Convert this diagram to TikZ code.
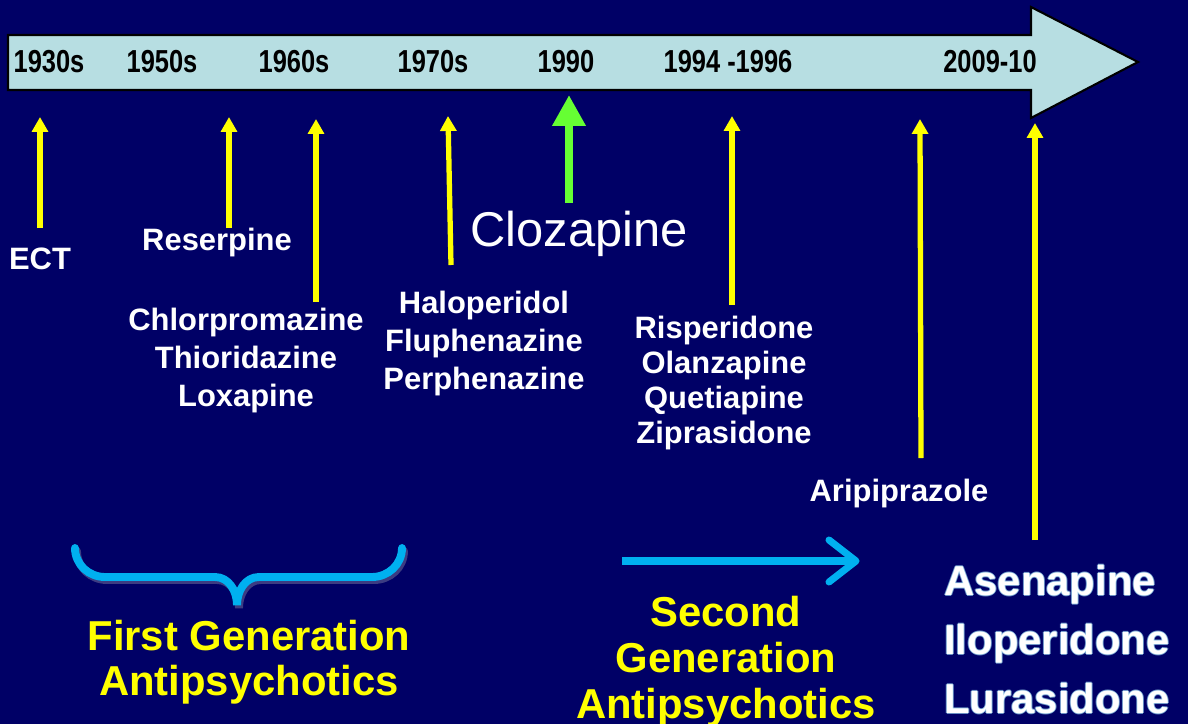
\documentclass[tikz,border=0pt]{standalone}
\usepackage{fontspec}
\setmainfont{Liberation Sans}
\newfontfamily\narrowfont[FakeStretch=0.8]{Liberation Sans}
\usetikzlibrary{arrows.meta}
\definecolor{bg}{RGB}{0,0,102}
\definecolor{tl}{RGB}{183,222,226}
\definecolor{yel}{RGB}{255,255,0}
\definecolor{grn}{RGB}{102,255,51}
\definecolor{cy}{RGB}{0,176,240}
\definecolor{glow}{RGB}{150,205,235}
\definecolor{shad}{RGB}{60,60,130}
\begin{document}
\begin{tikzpicture}[x=0.02cm,y=-0.02cm,
 year/.style={font=\narrowfont\bfseries\fontsize{18.1}{20}\selectfont, text=black, anchor=base, inner sep=0},
 drug/.style={font=\bfseries\fontsize{17.6}{21.6}\selectfont, text=white, align=center, anchor=base, inner sep=0},
 gen/.style={font=\bfseries\fontsize{23.8}{26}\selectfont, text=yel, align=center, anchor=base, inner sep=0},
 newdrug/.style={font=\bfseries\fontsize{23.8}{33.5}\selectfont, align=left, anchor=base west, inner sep=0},
 yarrow/.style={draw=yel, line width=3pt, -{Triangle[length=8.5pt,width=9pt]}},
]
\fill[bg] (0,0) rectangle (1188,724);
\useasboundingbox (0,0) rectangle (1188,724);

% timeline arrow
\draw[fill=tl, line width=1.2pt, line join=miter] (8,35) -- (1031,35) -- (1031,7) -- (1138,62) -- (1031,118) -- (1031,90) -- (8,90) -- cycle;

% years
\node[year] (y1930) at (49,72) {1930s};
\node[year] (y1950) at (162,72) {1950s};
\node[year] (y1960) at (294,72) {1960s};
\node[year] (y1970) at (433,72) {1970s};
\node[year] (y1990) at (566,72) {1990};
\node[year] (y1994) at (728,72) {1994 -1996};
\node[year] (y2009) at (990,72) {2009-10};

% drug labels (anchor=base is the baseline of the last line)
\node[drug] (ect) at (40,269) {ECT};
\node[drug] (reserpine) at (217,250) {Reserpine};
\node[drug] (chlor) at (246,406) {Chlorpromazine\\Thioridazine\\Loxapine};
\node[drug] (halo) at (484,389) {Haloperidol\\Fluphenazine\\Perphenazine};
\node[font=\fontsize{27.8}{30}\selectfont, text=white, anchor=base, inner sep=0] (cloz) at (579,246) {Clozapine};
\node[drug, font=\bfseries\fontsize{17.6}{19.8}\selectfont] (risp) at (724,443) {Risperidone\\Olanzapine\\Quetiapine\\Ziprasidone};
\node[drug] (arip) at (899,501) {Aripiprazole};

% arrow end points
\coordinate (ectB) at (40,228);   \coordinate (ectT) at (40,117);
\coordinate (resB) at (229,228);  \coordinate (resT) at (229,117);
\coordinate (chlB) at (316,302);  \coordinate (chlT) at (316,119);
\coordinate (halB) at (451,265);  \coordinate (halT) at (448,116);
\coordinate (cloB) at (569,203);  \coordinate (cloT) at (569,95);
\coordinate (rspB) at (732,305);  \coordinate (rspT) at (732,116);
\coordinate (aripB) at (921,458); \coordinate (aripT) at (920,119);
\coordinate (asnB) at (1035,540); \coordinate (asnT) at (1035,123);

\draw[yarrow] (ectB) -- (ectT);
\draw[yarrow] (resB) -- (resT);
\draw[yarrow] (chlB) -- (chlT);
\draw[yarrow] (halB) -- (halT);
\draw[draw=grn, line width=5.1pt, -{Triangle[length=17.6pt,width=18pt]}] (cloB) -- (cloT);
\draw[yarrow] (rspB) -- (rspT);
\draw[yarrow] (aripB) -- (aripT);
\draw[yarrow] (asnB) -- (asnT);

% brace
\draw[shad, line width=4.5pt, line cap=round, shift={(2,3)}] (75,548) to[out=-90,in=180] (105,577) -- (215,577) to[out=0,in=90] (237,605) to[out=90,in=180] (259,577) -- (372,577) to[out=0,in=-90] (402,548);
\draw[cy, line width=4.5pt, line cap=round] (75,548) to[out=-90,in=180] (105,577) -- (215,577) to[out=0,in=90] (237,605) to[out=90,in=180] (259,577) -- (372,577) to[out=0,in=-90] (402,548);

% second generation arrow
\draw[cy, line width=4pt] (622,561) -- (852,561);
\draw[cy, line width=4pt, line cap=round, line join=round] (829,540) -- (856,561) -- (829,582);

% generation labels
\node[gen, font=\bfseries\fontsize{23.8}{25.5}\selectfont] (first) at (249,695) {First Generation\\Antipsychotics};
\node[gen] (second) at (726,718) {Second\\Generation\\Antipsychotics};

% newest drugs with soft glow
\foreach \dx/\dy in {-1/0,1/0,0/-1,0/1}
  \node[newdrug, text=glow, opacity=0.7] at (944+\dx,713+\dy) {Asenapine\\Iloperidone\\Lurasidone};
\node[newdrug, text=white] (newest) at (944,713) {Asenapine\\Iloperidone\\Lurasidone};
\end{tikzpicture}
\end{document}
